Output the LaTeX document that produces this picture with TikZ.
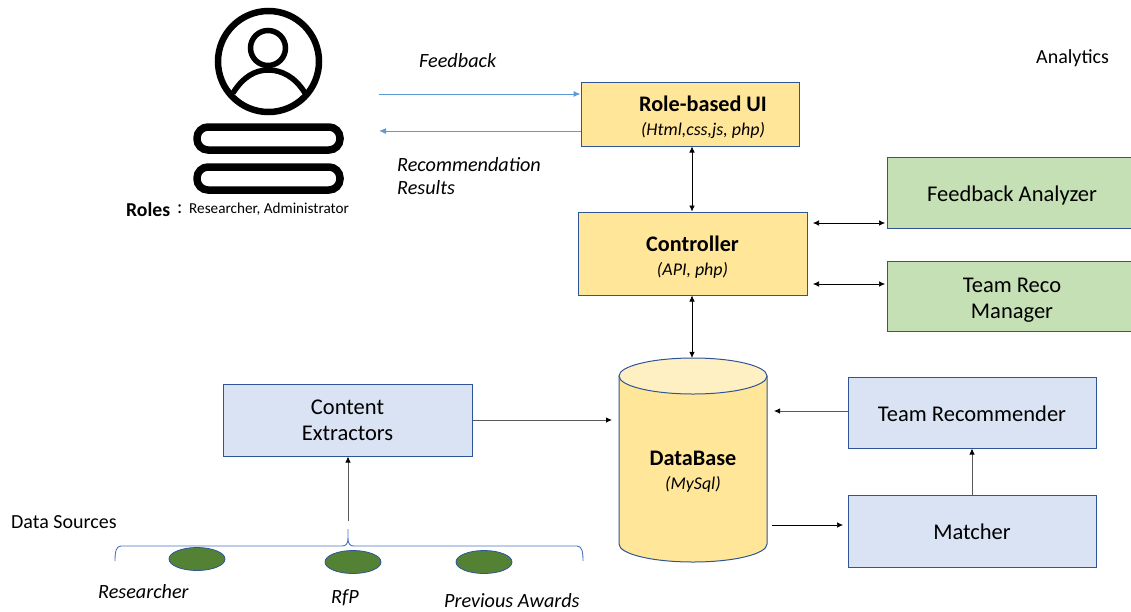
\documentclass[tikz,border=0pt]{standalone}
\usepackage{fontspec}
\setmainfont{Carlito}
\usetikzlibrary{arrows.meta,shapes.geometric}
\definecolor{ylw}{HTML}{FFE699}
\definecolor{ylwtop}{HTML}{FFF0C4}
\definecolor{grn}{HTML}{C5E0B4}
\definecolor{blu}{HTML}{DAE3F3}
\definecolor{edge}{HTML}{2F5597}
\definecolor{lnk}{HTML}{5B9BD5}
\definecolor{dot}{HTML}{548235}
\definecolor{brc}{HTML}{4472C4}
\tikzset{
  x=1pt,y=-1pt,
  boxbase/.style={draw=edge,line width=1pt,minimum width=#1,inner sep=0pt,align=center,font=\fontsize{22.5}{26}\selectfont},
  ybox/.style={boxbase=#1,fill=ylw},
  gbox/.style={boxbase=#1,fill=grn},
  bbox/.style={boxbase=#1,fill=blu},
  conn/.style={-{Latex[length=6pt,width=5.5pt]},line width=0.6pt,black},
  bconn/.style={{Latex[length=6pt,width=5.5pt]}-{Latex[length=6pt,width=5.5pt]},line width=0.6pt,black},
  gconn/.style={line width=0.8pt,black!65,arrows={-{Latex[length=6pt,width=5.5pt,black]}}},
  fb/.style={-{Latex[length=7pt,width=6pt]},line width=1pt,lnk},
  lab/.style={inner sep=0pt,font=\fontsize{20.2}{23}\selectfont\itshape},
  txt/.style={inner sep=0pt,font=\fontsize{20}{24}\selectfont},
  src/.style={ellipse,draw=edge,fill=dot,line width=0.8pt,minimum width=56pt,minimum height=23pt,inner sep=0pt},
  ico/.style={draw=black,line cap=round},
  dbbody/.style={draw=edge,line width=1pt,fill=ylw},
  dbtop/.style={draw=edge,line width=1pt,fill=ylwtop},
}
\newcommand{\main}[1]{{\fontsize{22.2}{25}\selectfont\bfseries #1}}
\newcommand{\subt}[1]{{\fontsize{17.9}{20}\selectfont\itshape #1}}
\newcommand{\dn}[1]{\rule{0pt}{#1pt}}
\begin{document}
\begin{tikzpicture}
\useasboundingbox (0,0) rectangle (1131,611);
% icon
\draw[ico,line width=6.5pt] (268.5,61.5) circle (50.5);
\draw[ico,line width=5.5pt] (268,48) circle (17.5);
\draw[ico,line width=5.5pt,line cap=butt] (233,93) .. controls (243,77) and (255,70) .. (268,70) .. controls (282,70) and (295,77) .. (305,93);
\draw[ico,line width=7.5pt,rounded corners=11pt] (197,127) rectangle (340,150);
\draw[ico,line width=7.5pt,rounded corners=11pt] (197,167) rectangle (340,190);
\node[anchor=west,inner sep=0pt,font=\fontsize{19.7}{22}\selectfont\bfseries] (rolesl) at (126,210) {Roles};
\node[anchor=west,inner sep=0pt,font=\fontsize{19.7}{22}\selectfont] (rolesc) at (177,209) {:};
\node[anchor=west,inner sep=0pt,font=\fontsize{15.2}{18}\selectfont] (rolest) at (189,209) {Researcher, Administrator};
% boxes
\node[ybox=218pt,minimum height=64pt] (ui) at (690,114) {\hspace*{26pt}\dn{22}\main{Role-based UI}\\[-2pt]\hspace*{26pt}\subt{(Html,css,js, php)}};
\node[ybox=229pt,minimum height=83pt] (ctl) at (692.5,253.5) {\dn{22}\main{Controller}\\[-2pt]\subt{(API, php)}};
\path[clip] (0,0) rectangle (1131,611);
\node[gbox=250pt,minimum height=71pt] (fa) at (1012,192.5) {\dn{22}Feedback Analyzer};
\node[gbox=250pt,minimum height=70pt] (trm) at (1012,296) {\dn{22}Team Reco\\Manager};
\node[bbox=249pt,minimum height=72pt] (ce) at (347.5,420) {Content\\Extractors};
\node[bbox=248pt,minimum height=71pt] (tr) at (972,412.5) {\dn{18}Team Recommender};
\node[bbox=248pt,minimum height=72pt] (mat) at (972,531) {\dn{18}Matcher};
% database
\draw[dbbody] (619,376) -- (619,544) .. controls (619,554) and (652,562) .. (693,562) .. controls (734,562) and (767,554) .. (767,544) -- (767,376) -- cycle;
\draw[dbtop] (693,376) ellipse (74 and 18);
\node[minimum width=148pt,minimum height=204pt,inner sep=0pt] (db) at (693,460) {};
\node[inner sep=0pt,align=center,font=\fontsize{22.5}{26}\selectfont] (dbt) at (693,472) {\main{DataBase}\\[-2pt]\subt{(MySql)}};
% free ends
\coordinate (u1) at (379,94);
\coordinate (u2) at (379,131);
\coordinate (c1) at (813,223);
\coordinate (c2) at (813,284);
\coordinate (f1) at (885,223);
\coordinate (t1) at (885,284);
\coordinate (d1) at (612,420);
\coordinate (d2) at (774,411);
\coordinate (d3) at (772,525);
\coordinate (m1) at (843,525);
\coordinate (b1) at (348,521);
% connectors
\draw[fb] (u1) -- (ui.west |- u1);
\draw[fb] (ui.west |- u2) -- (u2);
\draw[bconn] (ui.south -| 692,0) -- (ctl.north -| 692,0);
\draw[bconn] (ctl.south -| 692,0) -- (db.north -| 692,0);
\draw[bconn] (c1) -- (f1);
\draw[bconn] (c2) -- (t1);
\draw[gconn] (ce.east |- d1) -- (d1);
\draw[gconn] (tr.west |- d2) -- (d2);
\draw[conn] (d3) -- (m1);
\draw[gconn] (mat.north -| 972,0) -- (tr.south -| 972,0);
\draw[gconn] (b1) -- (ce.south -| b1);
% brace
\draw[brc,line width=0.9pt] (115,561) .. controls (115,552) and (116,546) .. (121,546) -- (342,546) .. controls (346,546) and (348,544) .. (348,538) -- (348,529) -- (348,538) .. controls (348,544) and (350,546) .. (354,546) -- (577,546) .. controls (582,546) and (583,552) .. (583,561);
\node[src] (s1) at (197,559) {};
\node[src] (s2) at (353,562) {};
\node[src] (s3) at (484,562) {};
% labels
\node[lab,anchor=west] (l1) at (419,61) {Feedback};
\node[lab,anchor=west,align=left] (l2) at (397,176) {Recommendation\\Results};
\node[txt,anchor=west] (l3) at (1036,58) {Analytics};
\node[txt,anchor=west] (l4) at (11,522) {Data Sources};
\node[lab,anchor=west] (l5) at (98,592) {Researcher};
\node[lab,anchor=west] (l6) at (331,598) {RfP};
\node[lab,anchor=west] (l7) at (444,601) {Previous Awards};
\end{tikzpicture}
\end{document}
